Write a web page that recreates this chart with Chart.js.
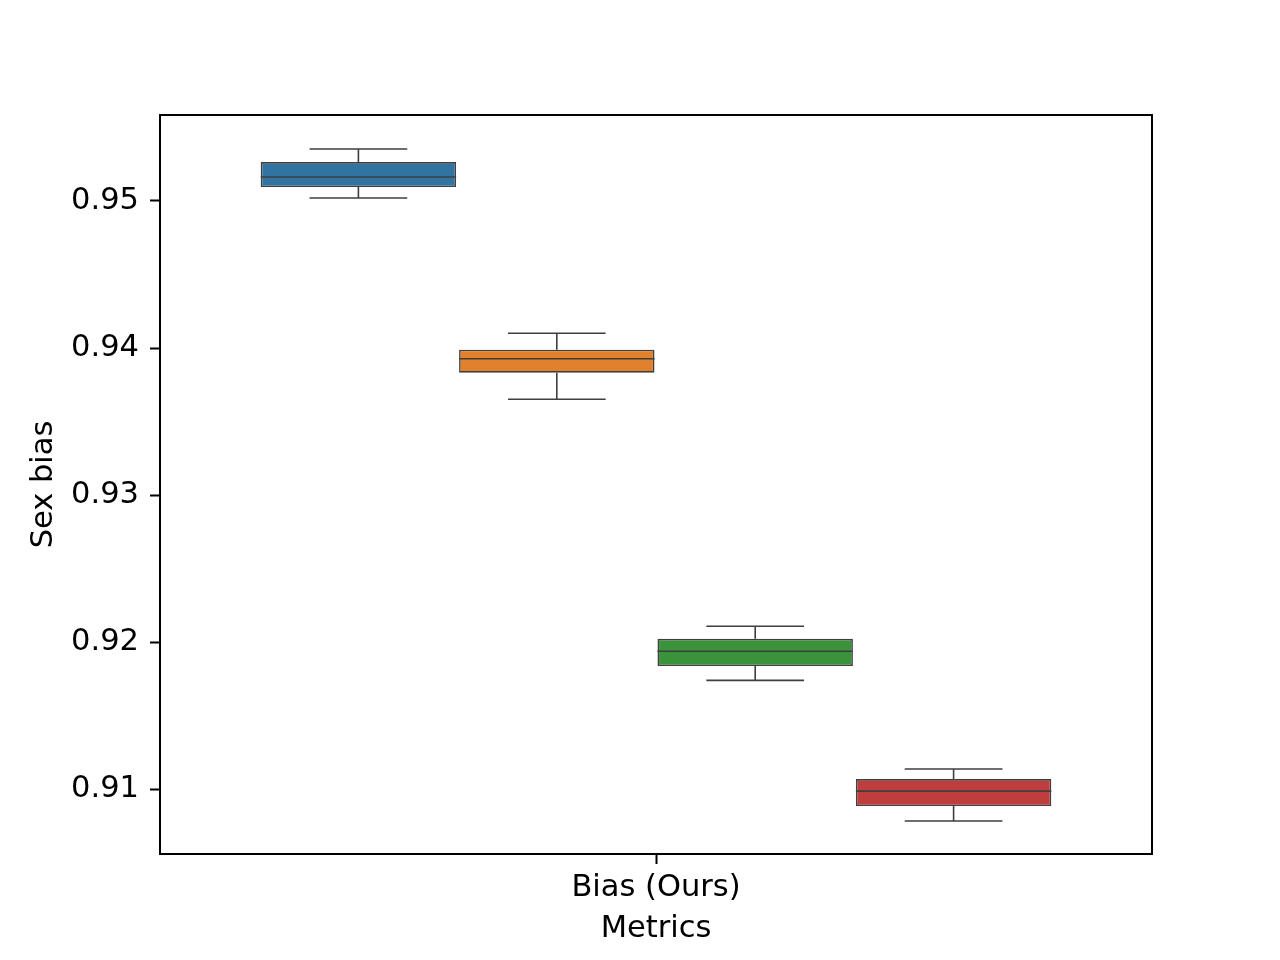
<!DOCTYPE html>
<html>
<head>
<meta charset="utf-8">
<title>Sex bias boxplot</title>
<script src="https://cdn.jsdelivr.net/npm/chart.js@4.4.1/dist/chart.umd.min.js"></script>
<style>
  html, body { margin: 0; padding: 0; background: #ffffff; }
  canvas { display: block; }
</style>
</head>
<body>
<canvas id="chart" width="1280" height="960"></canvas>
<script>
// values
const categories = ['Bias (Ours)'];
const groups = ['Group 1', 'Group 2', 'Group 3', 'Group 4'];
const whiskerLow = [0.95020, 0.93651, 0.91739, 0.90782];
const q1 = [0.95095, 0.93832, 0.91837, 0.90884];
const median = [0.95163, 0.93927, 0.91937, 0.90986];
const q3 = [0.95265, 0.93988, 0.92022, 0.91068];
const whiskerHigh = [0.95354, 0.94100, 0.92107, 0.91136];
const yTicks = [0.91, 0.92, 0.93, 0.94, 0.95];
const yMin = 0.90558;
const yMax = 0.95585;

const boxColors = ['#3274a1', '#e1812c', '#3a923a', '#c03d3e'];
const lineColor = '#3f3f3f';
const fontFamily = "'DejaVu Sans', sans-serif";
const fontSize = 30.5;

// whiskers, caps and medians on top of the floating bars
const boxLines = {
    id: 'boxLines',
    afterDatasetsDraw: (chart) => {
        const ctx = chart.ctx;
        const y = chart.scales.y;
        ctx.save();
        ctx.strokeStyle = lineColor;
        ctx.lineWidth = 1.6;
        groups.forEach((g, i) => {
            const bar = chart.getDatasetMeta(i).data[0];
            if (!bar) return;
            const x = bar.x;
            const half = bar.width / 2;
            const cap = bar.width / 4;
            const yMed = y.getPixelForValue(median[i]);
            const yQ1 = y.getPixelForValue(q1[i]);
            const yQ3 = y.getPixelForValue(q3[i]);
            const yLo = y.getPixelForValue(whiskerLow[i]);
            const yHi = y.getPixelForValue(whiskerHigh[i]);
            ctx.beginPath();
            ctx.moveTo(x - half, yMed); ctx.lineTo(x + half, yMed);
            ctx.moveTo(x, yQ3); ctx.lineTo(x, yHi);
            ctx.moveTo(x - cap, yHi); ctx.lineTo(x + cap, yHi);
            ctx.moveTo(x, yQ1); ctx.lineTo(x, yLo);
            ctx.moveTo(x - cap, yLo); ctx.lineTo(x + cap, yLo);
            ctx.stroke();
        });
        // axes frame
        const a = chart.chartArea;
        ctx.strokeStyle = '#000000';
        ctx.lineWidth = 2;
        ctx.strokeRect(a.left, a.top, a.right - a.left, a.bottom - a.top);
        ctx.restore();
    }
};

new Chart(document.getElementById('chart').getContext('2d'), {
    type: 'bar',
    data: {
        labels: categories,
        datasets: groups.map((g, i) => ({
            label: g,
            data: [[q1[i], q3[i]]],
            backgroundColor: boxColors[i],
            borderColor: lineColor,
            borderWidth: 1.6,
            borderSkipped: false,
            categoryPercentage: 0.8,
            barPercentage: 0.985
        }))
    },
    options: {
        responsive: false,
        animation: false,
        layout: { padding: { top: 115, right: 128, left: 0, bottom: 0 } },
        plugins: {
            legend: { display: false },
            tooltip: { enabled: false }
        },
        scales: {
            x: {
                afterFit: s => { s.height = 106; },
                grid: {
                    display: true,
                    offset: false,
                    drawOnChartArea: false,
                    drawTicks: true,
                    tickLength: 10,
                    tickWidth: 2,
                    tickColor: '#000000'
                },
                border: { display: true, color: '#000000', width: 2 },
                ticks: {
                    color: '#000000',
                    padding: 6,
                    font: { family: fontFamily, size: fontSize }
                },
                title: {
                    display: true,
                    text: 'Metrics',
                    color: '#000000',
                    padding: { top: 0, bottom: 13 },
                    font: { family: fontFamily, size: fontSize }
                }
            },
            y: {
                min: yMin,
                max: yMax,
                afterFit: s => { s.width = 160; },
                afterBuildTicks: s => { s.ticks = yTicks.map(v => ({ value: v })); },
                grid: {
                    display: true,
                    drawOnChartArea: false,
                    drawTicks: true,
                    tickLength: 10,
                    tickWidth: 2,
                    tickColor: '#000000'
                },
                border: { display: true, color: '#000000', width: 2 },
                ticks: {
                    color: '#000000',
                    padding: 11,
                    font: { family: fontFamily, size: fontSize },
                    callback: v => Number(v).toFixed(2)
                },
                title: {
                    display: true,
                    text: 'Sex bias',
                    color: '#000000',
                    padding: { top: 26, bottom: 0 },
                    font: { family: fontFamily, size: fontSize }
                }
            }
        }
    },
    plugins: [boxLines]
});
</script>
</body>
</html>
